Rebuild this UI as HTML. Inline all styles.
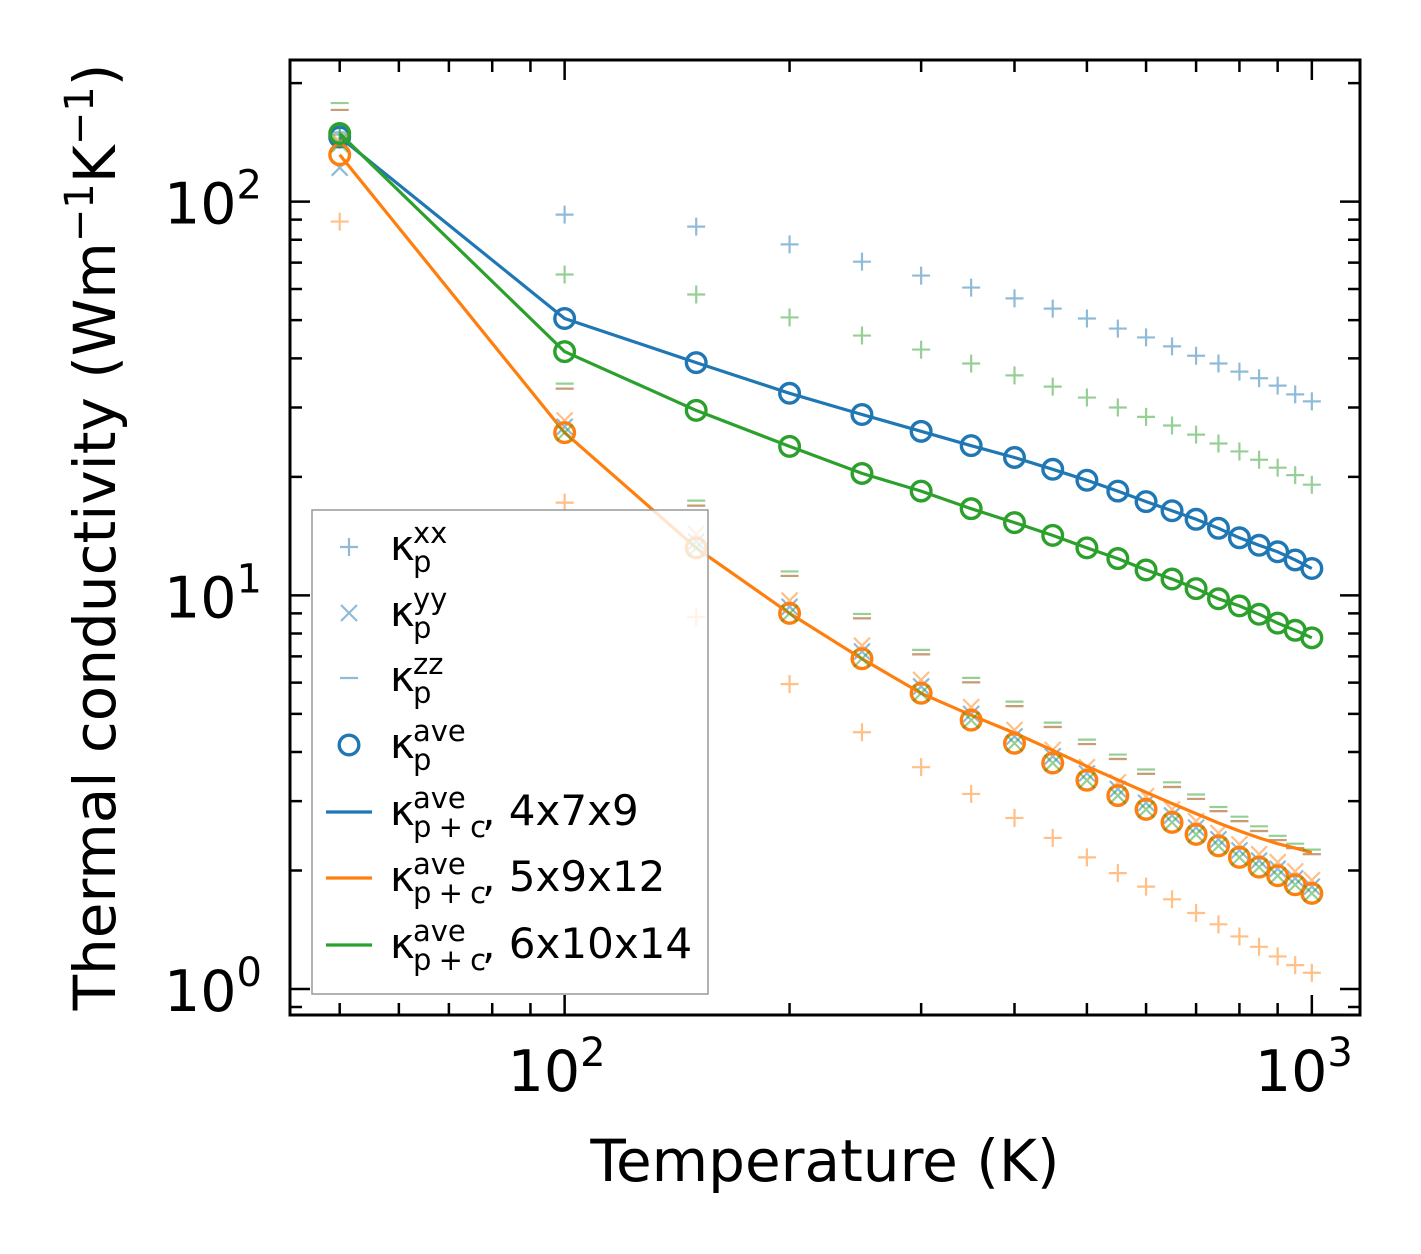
<!DOCTYPE html>
<html><head><meta charset="utf-8"><style>
html,body{margin:0;padding:0;background:#fff}
svg{display:block;font-family:"DejaVu Sans","Liberation Sans",sans-serif}
</style></head><body>
<svg id="chart" width="1421" height="1254" viewBox="0 0 1421 1254" xmlns="http://www.w3.org/2000/svg">
<rect x="0" y="0" width="1421" height="1254" fill="#fff"/>
<g id="marks"></g>
<g id="axes"></g>
<text x="825" y="1181" font-size="58" text-anchor="middle">Temperature (K)</text>
<text transform="translate(115,537) rotate(-90)" font-size="58" text-anchor="middle">Thermal conductivity (Wm<tspan font-size="40" dy="-22">−1</tspan><tspan dy="22">K</tspan><tspan font-size="40" dy="-22">−1</tspan><tspan dy="22">)</tspan></text>
<g id="legend">
<rect x="312" y="510" width="396" height="484" fill="#fff" fill-opacity="0.8" stroke="#999" stroke-width="1.5"/>
</g>
</svg>
<script>
const temps = [50,100,150,200,250,300,350,400,450,500,550,600,650,700,750,800,850,900,950,1000];
const aveBlue = [146,50.5,39.0,32.6,28.8,26.1,24.0,22.4,20.9,19.6,18.4,17.3,16.4,15.6,14.8,14.0,13.4,12.9,12.3,11.7];
const aveGreen = [149,41.6,29.5,23.9,20.4,18.4,16.6,15.3,14.2,13.2,12.4,11.6,11.0,10.4,9.8,9.4,8.95,8.5,8.15,7.8];
const aveOrange = [131.6,25.9,13.2,9.0,6.9,5.64,4.82,4.21,3.75,3.39,3.10,2.86,2.65,2.47,2.31,2.16,2.04,1.94,1.84,1.75];
const lineBlue = aveBlue;
const lineGreen = aveGreen;
const lineOrange = [131.6,25.9,13.2,9.0,6.9,5.64,4.96,4.47,4.04,3.68,3.40,3.16,2.96,2.79,2.64,2.52,2.42,2.34,2.28,2.22];
const xxBlue = [150,92.7,86.4,77.9,70.4,64.9,60.5,56.8,53.5,50.5,47.6,45.2,42.9,40.6,38.8,37.0,35.6,34.1,32.4,31.1];
const xxGreen = [148,65.3,58.1,50.8,45.7,42.1,38.8,36.2,33.9,31.8,30.0,28.4,27.0,25.6,24.3,23.2,22.1,21.1,20.2,19.1];
const xxOrange = [89,17.2,8.8,5.95,4.49,3.66,3.13,2.72,2.42,2.16,1.97,1.82,1.69,1.56,1.46,1.36,1.28,1.21,1.15,1.10];
const yyBlue = [122,26.8,13.7,9.35,7.2,5.87,5.0,4.38,3.9,3.53,3.22,2.97,2.76,2.57,2.4,2.25,2.12,2.02,1.91,1.82];
const yyGreen = [140,25.9,13.2,9.0,6.9,5.64,4.82,4.21,3.75,3.39,3.10,2.86,2.65,2.47,2.31,2.16,2.04,1.94,1.84,1.75];
const yyOrange = [142,27.8,14.3,9.7,7.45,6.1,5.2,4.55,4.05,3.66,3.35,3.09,2.86,2.67,2.49,2.33,2.2,2.1,1.99,1.89];
const zzBlue = [171,33.5,16.9,11.2,8.74,7.08,6.01,5.23,4.63,4.19,3.84,3.52,3.26,3.04,2.83,2.67,2.52,2.39,2.28,2.2];
const zzOrange = [171,33.5,16.9,11.2,8.74,7.08,6.01,5.23,4.63,4.19,3.84,3.52,3.26,3.04,2.83,2.67,2.52,2.39,2.28,2.2];
const zzGreen = [178,34.5,17.4,11.5,8.97,7.27,6.17,5.37,4.75,4.3,3.94,3.61,3.35,3.12,2.9,2.74,2.59,2.45,2.34,2.26];
const xTickVals = [100,1000];
const xTickExp = ["2","3"];
const yTickVals = [1,10,100];
const yTickExp = ["0","1","2"];

const NS = "http://www.w3.org/2000/svg";
const PL = 290, PR = 1360, PT = 60, PB = 1015;
const XMIN = Math.log10(42.9), XMAX = Math.log10(1160);
const YMIN = Math.log10(0.859), YMAX = Math.log10(229);
function sx(v){ return PL + (Math.log10(v) - XMIN) / (XMAX - XMIN) * (PR - PL); }
function sy(v){ return PB - (Math.log10(v) - YMIN) / (YMAX - YMIN) * (PB - PT); }
function mk(tag, attrs, parent){ const e = document.createElementNS(NS, tag); for (const k in attrs) e.setAttribute(k, attrs[k]); parent.appendChild(e); return e; }

const C = {blue:"#1f77b4", orange:"#ff7f0e", green:"#2ca02c"};
const marks = document.getElementById("marks");
const axes = document.getElementById("axes");

function plus(x, y, col, g){ return mk("path", {d:`M${x-9} ${y}H${x+9}M${x} ${y-9}V${y+9}`, stroke:col, "stroke-width":2.2, "stroke-opacity":0.5, fill:"none"}, g); }
function cross(x, y, col, g){ return mk("path", {d:`M${x-8} ${y-8}L${x+8} ${y+8}M${x-8} ${y+8}L${x+8} ${y-8}`, stroke:col, "stroke-width":2.2, "stroke-opacity":0.5, fill:"none"}, g); }
function dash(x, y, col, g){ return mk("path", {d:`M${x-9} ${y}H${x+9}`, stroke:col, "stroke-width":2.2, "stroke-opacity":0.5, fill:"none"}, g); }

const series = [
  {name:"4x7x9", col:C.blue, xx:xxBlue, yy:yyBlue, zz:zzBlue, ave:aveBlue, line:lineBlue},
  {name:"5x9x12", col:C.orange, xx:xxOrange, yy:yyOrange, zz:zzOrange, ave:aveOrange, line:lineOrange},
  {name:"6x10x14", col:C.green, xx:xxGreen, yy:yyGreen, zz:zzGreen, ave:aveGreen, line:lineGreen}
];

series.forEach(s => {
  const g = mk("g", {}, marks);
  
  
  temps.forEach((t, i) => {
    const a = plus(sx(t), sy(s.xx[i]), s.col, g);
    
    
    const b = cross(sx(t), sy(s.yy[i]), s.col, g);
    
    
    const c = dash(sx(t), sy(s.zz[i]), s.col, g);
    
    
  });
  temps.forEach((t, i) => {
    const o = mk("circle", {cx:sx(t), cy:sy(s.ave[i]), r:9.8, fill:"none", stroke:s.col, "stroke-width":3.4}, g);
    
    
  });
  const d = temps.map((t, i) => (i ? "L" : "M") + sx(t).toFixed(1) + " " + sy(s.line[i]).toFixed(1)).join("");
  const l = mk("path", {d:d, fill:"none", stroke:s.col, "stroke-width":3.2, "stroke-linejoin":"round"}, g);
  
  
});

const frame = mk("rect", {x:PL, y:PT, width:PR-PL, height:PB-PT, fill:"none", stroke:"#000", "stroke-width":3}, axes);



for (let dec = 10; dec <= 1000; dec *= 10) {
  for (let m = 1; m <= 9; m++) {
    const v = dec * m;
    if (v < 42.9 || v > 1160) continue;
    const x = sx(v), L = (m === 1) ? 20 : 12;
    const tk = mk("path", {d:`M${x} ${PB}V${PB-L}M${x} ${PT}V${PT+L}`, stroke:"#000", "stroke-width":2.5}, axes);
    
    
  }
}
xTickVals.forEach((v, i) => {
  const t = mk("text", {x:sx(v)-8, y:1091, "font-size":57, "text-anchor":"middle"}, axes);
  
  
  t.innerHTML = `10<tspan font-size="40" dy="-25">${xTickExp[i]}</tspan>`;
});
for (let dec = 0.1; dec <= 100; dec *= 10) {
  for (let m = 1; m <= 9; m++) {
    const v = dec * m;
    if (v < 0.859 || v > 229) continue;
    const y = sy(v), L = (m === 1) ? 20 : 12;
    const tk = mk("path", {d:`M${PL} ${y}H${PL+L}M${PR} ${y}H${PR-L}`, stroke:"#000", "stroke-width":2.5}, axes);
    
    
  }
}
yTickVals.forEach((v, i) => {
  const t = mk("text", {x:262, y:sy(v)+22, "font-size":57, "text-anchor":"end"}, axes);
  
  
  t.innerHTML = `10<tspan font-size="40" dy="-25">${yTickExp[i]}</tspan>`;
});

const lg = document.getElementById("legend");
const rows = [547,613,678,745,812,878,945];
const sups = ["xx","yy","zz","ave","ave","ave","ave"];
const subs = ["p","p","p","p","p + c","p + c","p + c"];
const tails = ["","","","",", 4x7x9",", 5x9x12",", 6x10x14"];
rows.forEach((y, i) => {
  const g = mk("g", {}, lg);
  
  
  if (i === 0) plus(349, y, C.blue, g);
  else if (i === 1) cross(349, y, C.blue, g);
  else if (i === 2) dash(349, y, C.blue, g);
  else if (i === 3) mk("circle", {cx:349, cy:y, r:9.8, fill:"none", stroke:C.blue, "stroke-width":3.4}, g);
  else mk("path", {d:`M326 ${y}H372`, stroke:[C.blue,C.orange,C.green][i-4], "stroke-width":3.2}, g);
  const t = mk("text", {x:390, y:y+13, "font-size":42}, g);
  t.innerHTML = `κ<tspan font-size="29" x="413" dy="-17">${sups[i]}</tspan><tspan font-size="29" x="413" dy="29" letter-spacing="-1">${subs[i]}</tspan><tspan dy="-12" dx="-3">${tails[i]}</tspan>`;
});
</script>
</body></html>
